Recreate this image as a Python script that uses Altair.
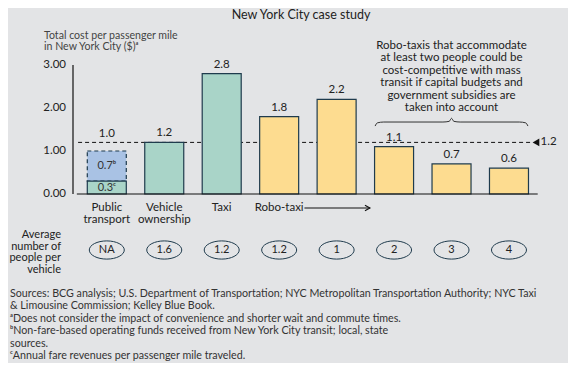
import altair as alt
import pandas as pd

# ---------------- data ----------------
categories = ["Public transport", "Vehicle ownership", "Taxi", "Robo-taxi 1.2",
              "Robo-taxi 1", "Robo-taxi 2", "Robo-taxi 3", "Robo-taxi 4"]
costs = [1.0, 1.2, 2.8, 1.8, 2.2, 1.1, 0.7, 0.6]
cost_labels = ["1.0", "1.2", "2.8", "1.8", "2.2", "1.1", "0.7", "0.6"]
groups = ["public", "current", "current", "robo", "robo", "robo", "robo", "robo"]
occupancy = ["NA", "1.6", "1.2", "1.2", "1", "2", "3", "4"]
public_parts = ["fare", "subsidy"]
public_values = [0.3, 0.7]
public_labels = ["0.3ᶜ", "0.7ᵇ"]
benchmark = 1.2
axis_ticks = [0, 1, 2, 3]
axis_tick_labels = ["0.00", "1.00", "2.00", "3.00"]
group_labels = ["Public\ntransport", "Vehicle\nownership", "Taxi", "Robo-taxi"]
title_text = "New York City case study"
y_title = "Total cost per passenger mile\nin New York City ($)ᵃ"
note_lines = ["Robo-taxis that accommodate", "at least two people could be", "cost-competitive with mass",
              "transit if capital budgets and", "government subsidies are", "taken into account"]
row_title = "Average\nnumber of\npeople per\nvehicle"
footnotes = [
    "Sources: BCG analysis; U.S. Department of Transportation; NYC Metropolitan Transportation Authority; NYC Taxi",
    "& Limousine Commission; Kelley Blue Book.",
    "ᵃDoes not consider the impact of convenience and shorter wait and commute times.",
    "ᵇNon-fare-based operating funds received from New York City transit; local, state",
    "sources.",
    "ᶜAnnual fare revenues per passenger mile traveled.",
]

# ---------------- layout ----------------
W, H = 560, 355
STEP = 58.5          # px per category
PX_PER_UNIT = 43.0   # px per dollar
X0_PX = 95.5         # centre of first category (chart px)
Y0_PX = 186.0        # zero line (chart px)
xmin = -X0_PX / STEP
xmax = xmin + W / STEP
ymax = Y0_PX / PX_PER_UNIT
ymin = ymax - H / PX_PER_UNIT

xs = alt.Scale(domain=[xmin, xmax], nice=False, zero=False)
ys = alt.Scale(domain=[ymin, ymax], nice=False, zero=False)

FONT = "Lato"
INK = "#1f3b4d"
TEXT = "#222222"
TEAL = "#a9d4c8"
YELLOW = "#fddc90"
BLUE = "#a9c2e4"

idx = list(range(len(categories)))
df = pd.DataFrame({"idx": idx, "cat": categories, "cost": costs, "label": cost_labels,
                   "group": groups, "occ": occupancy})
bars_df = df[df["group"] != "public"]

pub_start = [0.0, public_values[0]]
pub_end = [public_values[0], public_values[0] + public_values[1]]
pub_df = pd.DataFrame({"idx": [0, 0], "part": public_parts, "start": pub_start, "end": pub_end,
                       "mid": [(a + b) / 2 for a, b in zip(pub_start, pub_end)],
                       "label": public_labels})

X = lambda f="idx": alt.X(f"{f}:Q", scale=xs, axis=None)
Y = lambda f: alt.Y(f"{f}:Q", scale=ys, axis=None)

# main bars
bars = alt.Chart(bars_df).mark_bar(orient="vertical", size=39, stroke=INK, strokeWidth=1.2).encode(
    x=X(), y=Y("cost"), y2=alt.Y2(datum=0),
    fill=alt.Fill("group:N", scale=alt.Scale(domain=["current", "robo"], range=[TEAL, YELLOW]), legend=None),
)
bar_labels = alt.Chart(bars_df).mark_text(baseline="bottom", dy=-4, font=FONT, fontSize=11.5, color=TEXT).encode(
    x=X(), y=Y("cost"), text="label:N")

# public transport stacked bar
pub_fare = alt.Chart(pub_df[pub_df["part"] == "fare"]).mark_bar(
    orient="vertical", size=39, stroke=INK, strokeWidth=1.2, fill=TEAL).encode(
    x=X(), y=Y("start"), y2="end:Q")
pub_sub = alt.Chart(pub_df[pub_df["part"] == "subsidy"]).mark_bar(
    orient="vertical", size=39, stroke=INK, strokeWidth=1.2, strokeDash=[4, 3], fill=BLUE).encode(
    x=X(), y=Y("start"), y2="end:Q")
pub_inner = alt.Chart(pub_df).mark_text(font=FONT, fontSize=11, color="#333333").encode(
    x=X(), y=Y("mid"), text="label:N")
pub_total = alt.Chart(df[df["group"] == "public"]).mark_text(
    baseline="bottom", dy=-12, font=FONT, fontSize=11.5, color=TEXT).encode(
    x=X(), y=Y("cost"), text="label:N")

# axes drawn by hand
axis_df = pd.DataFrame({"v": axis_ticks, "t": axis_tick_labels})
tick_text = alt.Chart(axis_df).mark_text(align="right", font=FONT, fontSize=11.5, color=TEXT).encode(
    x=alt.value(58), y=Y("v"), text="t:N")
yline = alt.Chart(pd.DataFrame({"a": [0], "b": [max(axis_ticks)]})).mark_rule(color="#111", strokeWidth=1.2).encode(
    x=alt.value(65), y=Y("a"), y2="b:Q")
base_df = pd.DataFrame({"a": [xmin + 65 / STEP], "b": [len(categories) - 0.5], "y": [0]})
xline = alt.Chart(base_df).mark_rule(color="#111", strokeWidth=1.2).encode(
    x=X("a"), x2="b:Q", y=Y("y"))

# benchmark line
bench_df = pd.DataFrame({"a": [-0.5], "b": [7.39], "y": [benchmark], "tx": [7.47], "lx": [7.55],
                         "t": [str(benchmark)]})
bench = alt.Chart(bench_df).mark_rule(color="#111", strokeWidth=1, strokeDash=[4, 3]).encode(
    x=X("a"), x2="b:Q", y=Y("y"))
bench_tri = alt.Chart(bench_df).mark_point(shape="triangle-left", filled=True, size=60, color="#111", opacity=1).encode(
    x=X("tx"), y=Y("y"))
bench_txt = alt.Chart(bench_df).mark_text(align="left", font=FONT, fontSize=11.5, color=TEXT).encode(
    x=X("lx"), y=Y("y"), text="t:N")

# brace over the last three bars
brace_df = pd.DataFrame({
    "x": [4.67, 4.71, 4.82, 5.85, 5.96, 6.0, 6.04, 6.15, 7.18, 7.29, 7.33],
    "y": [1.58, 1.655, 1.674, 1.674, 1.69, 1.76, 1.69, 1.674, 1.674, 1.655, 1.58],
})
brace = alt.Chart(brace_df).mark_line(color="#333", strokeWidth=1, interpolate="monotone").encode(
    x=X("x"), y=Y("y"))

note = alt.Chart(pd.DataFrame({"x": [6.0]})).mark_text(
    font=FONT, fontSize=11.5, color=TEXT, lineHeight=12.4, baseline="top").encode(
    x=X("x"), y=alt.value(32), text=alt.value(note_lines))

# category labels and arrow
glab_df = pd.DataFrame({"idx": idx[:len(group_labels)], "t": group_labels})
glabels = alt.Chart(glab_df).mark_text(font=FONT, fontSize=11.5, color=TEXT, lineBreak="\n",
                                       lineHeight=12, baseline="top").encode(
    x=X(), y=alt.value(194), text="t:N")
arrow_df = pd.DataFrame({"a": [3.44], "b": [4.58]})
arrow = alt.Chart(arrow_df).mark_rule(color="#111", strokeWidth=1).encode(
    x=X("a"), x2="b:Q", y=alt.value(200))
arrow_head = alt.Chart(arrow_df).mark_point(shape="M -1 -0.55 L 0 0 L -1 0.55", filled=False, size=100,
                                            color="#111", strokeWidth=1.1, opacity=1).encode(
    x=X("b"), y=alt.value(200))

# occupancy row
ellipse = alt.Chart(df).mark_point(
    shape="M -1 0 A 1 0.52 0 1 1 1 0 A 1 0.52 0 1 1 -1 0 Z",
    filled=False, size=1225, color=INK, strokeWidth=1, opacity=1).encode(
    x=X(), y=alt.value(242))
occ_txt = alt.Chart(df).mark_text(font=FONT, fontSize=11, color=TEXT).encode(
    x=X(), y=alt.value(242), text="occ:N")
row_lab = alt.Chart(pd.DataFrame({"k": [0]})).mark_text(
    align="right", baseline="top", font=FONT, fontSize=11, color=TEXT, lineBreak="\n", lineHeight=11.6).encode(
    x=alt.value(53), y=alt.value(221), text=alt.value(row_title))

# titles and footnotes
title = alt.Chart(pd.DataFrame({"k": [0]})).mark_text(
    baseline="top", font=FONT, fontSize=12.5, color=TEXT).encode(
    x=alt.value(293), y=alt.value(1), text=alt.value(title_text))
ytitle = alt.Chart(pd.DataFrame({"k": [0]})).mark_text(
    align="left", baseline="top", font=FONT, fontSize=10.6, color="#444", lineBreak="\n", lineHeight=11).encode(
    x=alt.value(36), y=alt.value(23), text=alt.value(y_title))
foot = alt.Chart(pd.DataFrame({"k": [0]})).mark_text(
    align="left", baseline="top", font=FONT, fontSize=10.7, color="#333", lineBreak="\n", lineHeight=12.4).encode(
    x=alt.value(2), y=alt.value(281), text=alt.value("\n".join(footnotes)))

chart = alt.layer(
    bench, pub_sub, pub_fare, bars, xline, yline, bar_labels, pub_inner, pub_total, tick_text,
    bench_tri, bench_txt, brace, note, glabels, arrow, arrow_head, ellipse, occ_txt, row_lab,
    title, ytitle, foot,
).properties(
    width=W, height=H, padding=0, background="#e3e4e6",
    autosize=alt.AutoSizeParams(type="none"),
).configure_view(strokeWidth=0)

chart.save("out.html", embed_options={"renderer": "svg", "actions": False})
